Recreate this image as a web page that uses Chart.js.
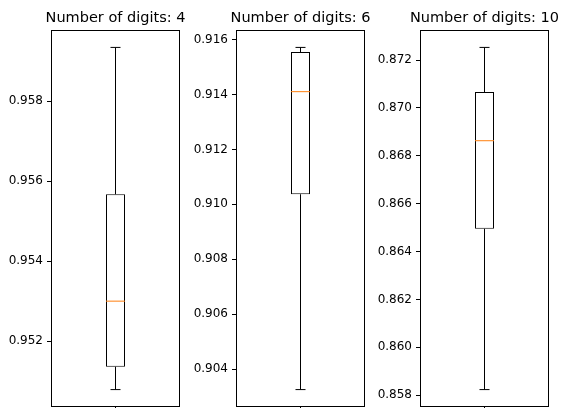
<!DOCTYPE html>
<html>
<head>
<meta charset="utf-8">
<script src="https://cdn.jsdelivr.net/npm/chart.js@4.4.1/dist/chart.umd.min.js"></script>
<style>
  html, body { margin: 0; padding: 0; background: #fff; }
  body { width: 561px; height: 408px; position: relative; overflow: hidden; }
  canvas { position: absolute; top: 0; }
</style>
</head>
<body>
<canvas id="c0" width="231" height="430" style="left:0px"></canvas>
<canvas id="c1" width="231" height="430" style="left:185px"></canvas>
<canvas id="c2" width="231" height="430" style="left:369px"></canvas>
<script>
// one box per panel
var titles = ['Number of digits: 4', 'Number of digits: 6', 'Number of digits: 10'];
var whiskerLow = [0.95079, 0.90326, 0.85823];
var q1 = [0.95136, 0.91037, 0.86495];
var median = [0.95300, 0.91410, 0.86863];
var q3 = [0.95567, 0.91554, 0.87067];
var whiskerHigh = [0.95934, 0.91571, 0.87253];
var yTicks = [
    [0.952, 0.954, 0.956, 0.958],
    [0.904, 0.906, 0.908, 0.910, 0.912, 0.914, 0.916],
    [0.858, 0.860, 0.862, 0.864, 0.866, 0.868, 0.870, 0.872]
];

var font = 'DejaVu Sans';

// matplotlib draws a full box round the axes
var framePlugin = {
    id: 'frame',
    afterDatasetsDraw: function (chart) {
        var a = chart.chartArea, ctx = chart.ctx;
        ctx.save();
        ctx.strokeStyle = '#000';
        ctx.lineWidth = 1;
        var l = Math.round(a.left) - 0.5, r = Math.round(a.right) + 0.5;
        var t = Math.round(a.top) + 0.5, b = Math.round(a.bottom) - 0.5;
        ctx.strokeRect(l, t, r - l, b - t);
        ctx.restore();
    }
};

function makePanel(i) {
    var span = whiskerHigh[i] - whiskerLow[i];
    var ctx = document.getElementById('c' + i).getContext('2d');
    return new Chart(ctx, {
        type: 'bar',
        data: {
            labels: ['1'],
            datasets: [{
                type: 'line',
                data: [median[i]],
                showLine: false,
                pointStyle: 'line',
                pointRadius: 9.5,
                pointBorderColor: '#ff7f0e',
                pointBorderWidth: 1,
                order: 0
            }, {
                type: 'line',
                data: [whiskerHigh[i]],
                showLine: false,
                pointStyle: 'line',
                pointRadius: 5,
                pointBorderColor: '#000',
                pointBorderWidth: 1,
                order: 0
            }, {
                type: 'line',
                data: [whiskerLow[i]],
                showLine: false,
                pointStyle: 'line',
                pointRadius: 5,
                pointBorderColor: '#000',
                pointBorderWidth: 1,
                order: 0
            }, {
                data: [[q1[i], q3[i]]],
                backgroundColor: '#fff',
                borderColor: '#000',
                borderWidth: 1,
                borderSkipped: false,
                barThickness: 19,
                grouped: false,
                inflateAmount: 0,
                order: 1
            }, {
                data: [[q3[i], whiskerHigh[i]]],
                backgroundColor: '#000',
                borderWidth: 0,
                barThickness: 1,
                grouped: false,
                inflateAmount: 0,
                order: 2
            }, {
                data: [[whiskerLow[i], q1[i]]],
                backgroundColor: '#000',
                borderWidth: 0,
                barThickness: 1,
                grouped: false,
                inflateAmount: 0,
                order: 2
            }]
        },
        options: {
            responsive: false,
            animation: false,
            layout: { padding: 0 },
            plugins: {
                legend: { display: false },
                tooltip: { enabled: false },
                title: {
                    display: true,
                    text: titles[i],
                    color: '#000',
                    font: { family: font, size: 14.5, weight: 'normal' },
                    padding: { top: 9.6, bottom: 3.3 }
                }
            },
            scales: {
                x: {
                    offset: true,
                    ticks: { display: false },
                    grid: { offset: false, drawOnChartArea: false, tickLength: 5, color: '#000' },
                    border: { display: false },
                    // canvas is taller than the window, the axis sits below the visible edge
                    afterFit: function (scale) { scale.height = 23.3; }
                },
                y: {
                    min: whiskerLow[i] - 0.05 * span,
                    max: whiskerHigh[i] + 0.05 * span,
                    afterBuildTicks: function (scale) {
                        scale.ticks = yTicks[i].map(function (v) { return { value: v }; });
                    },
                    ticks: {
                        color: '#000',
                        padding: 4,
                        font: { family: font, size: 12 },
                        callback: function (v) { return v.toFixed(3); }
                    },
                    grid: { drawOnChartArea: false, tickLength: 5, color: '#000' },
                    border: { display: false },
                    afterFit: function (scale) { scale.width = 52; }
                },
                y2: {
                    position: 'right',
                    display: true,
                    ticks: { display: false },
                    grid: { display: false },
                    border: { display: false },
                    afterFit: function (scale) { scale.width = 52; }
                }
            }
        },
        plugins: [framePlugin]
    });
}

for (var i = 0; i < titles.length; i++) {
    makePanel(i);
}
</script>
</body>
</html>
